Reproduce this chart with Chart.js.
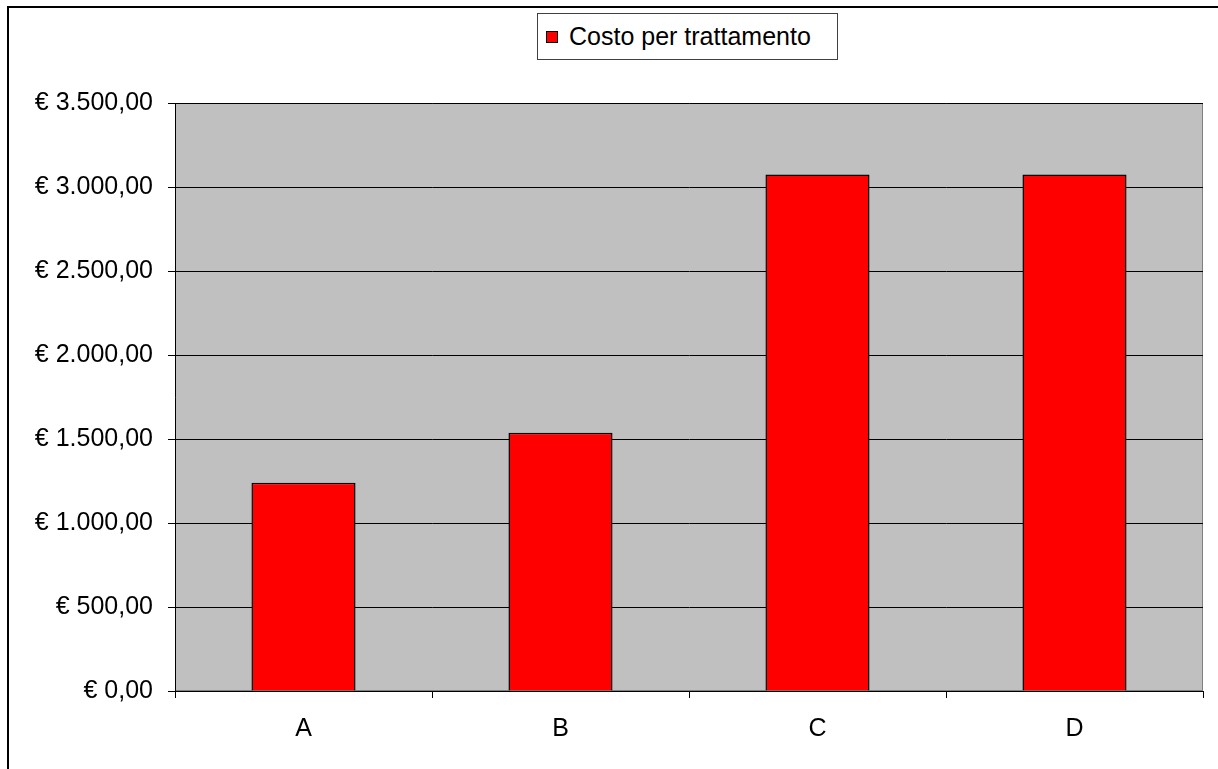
<!DOCTYPE html>
<html>
<head>
<meta charset="utf-8">
<script src="https://cdn.jsdelivr.net/npm/chart.js@4"></script>
<style>
  html, body { margin: 0; padding: 0; background: #fff; overflow: hidden; }
  #wrap { position: relative; width: 1218px; height: 769px; }
  #frame {
    position: absolute; left: 7px; top: 6px; width: 1400px; height: 1000px;
    border: 2px solid #000; box-sizing: border-box; pointer-events: none;
  }
  #legend {
    position: absolute; left: 537px; top: 13px; width: 301px; height: 47px;
    box-sizing: border-box; border: 1px solid #404040; background: #fff;
    font-family: "Liberation Sans", Arial, sans-serif; font-size: 25px; color: #000;
    display: flex; align-items: center; padding-left: 8px;
  }
  #legend .sw {
    display: inline-block; width: 10px; height: 10px; border: 1px solid #000;
    margin-right: 11px;
  }
</style>
</head>
<body>
<div id="wrap">
  <canvas id="chart" width="1218" height="769"></canvas>
  <div id="frame"></div>
  <div id="legend"></div>
</div>
<script>
// dati
const categorie = ['A', 'B', 'C', 'D'];
const costoPerTrattamento = [1240, 1537, 3075, 3075];
const serieLabel = 'Costo per trattamento';
const yMin = 0;
const yMax = 3500;
const yStep = 500;

const FONT = '"Liberation Sans", Arial, sans-serif';

function formatEuro(v) {
  const parts = Number(v).toFixed(2).split('.');
  const intPart = parts[0].replace(/\B(?=(\d{3})+(?!\d))/g, '.');
  return '€ ' + intPart + ',' + parts[1];
}

// sfondo grigio dell'area del grafico
const plotBg = {
  id: 'plotBg',
  beforeDraw(chart) {
    const { ctx, chartArea: a } = chart;
    ctx.save();
    ctx.fillStyle = '#c0c0c0';
    ctx.fillRect(a.left, a.top, a.right - a.left, a.bottom - a.top);
    ctx.strokeStyle = '#808080';
    ctx.lineWidth = 1;
    ctx.strokeRect(a.left + 0.5, a.top + 0.5, a.right - a.left - 1, a.bottom - a.top - 1);
    ctx.restore();
  },
};

const ctx = document.getElementById('chart').getContext('2d');
const chart = new Chart(ctx, {
  type: 'bar',
  data: {
    labels: categorie,
    datasets: [
      {
        label: serieLabel,
        data: costoPerTrattamento,
        backgroundColor: '#ff0000',
        borderColor: '#000000',
        borderWidth: 1.5,
        categoryPercentage: 1,
        barPercentage: 0.405,
      },
    ],
  },
  options: {
    responsive: false,
    animation: false,
    layout: { padding: { top: 103, right: 15, left: 0, bottom: 0 } },
    scales: {
      y: {
        min: yMin,
        max: yMax,
        ticks: {
          stepSize: yStep,
          color: '#000',
          padding: 15,
          font: { family: FONT, size: 25 },
          callback: (v) => formatEuro(v),
        },
        grid: { color: '#000', lineWidth: 1, tickLength: 7 },
        border: { display: true, color: '#000', width: 1 },
        afterFit(scale) { scale.width = 175; },
      },
      x: {
        ticks: {
          color: '#000',
          padding: 16,
          font: { family: FONT, size: 25 },
        },
        grid: {
          offset: true,
          drawOnChartArea: false,
          drawTicks: true,
          tickLength: 7,
          color: '#000',
        },
        border: { display: true, color: '#000', width: 1 },
        afterFit(scale) { scale.height = 78; },
      },
    },
    plugins: {
      legend: { display: false },
      tooltip: { enabled: false },
    },
  },
  plugins: [plotBg],
});

// legenda in HTML, centrata sopra l'area del grafico come nell'originale
const legend = document.getElementById('legend');
chart.data.datasets.forEach((ds) => {
  const sw = document.createElement('span');
  sw.className = 'sw';
  sw.style.background = ds.backgroundColor;
  const txt = document.createElement('span');
  txt.textContent = ds.label;
  legend.appendChild(sw);
  legend.appendChild(txt);
});
</script>
</body>
</html>
